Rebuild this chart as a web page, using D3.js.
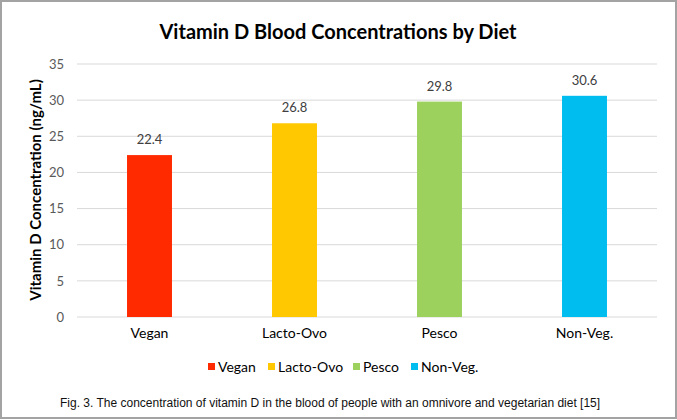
<!DOCTYPE html>
<html>
<head>
<meta charset="utf-8">
<script src="https://cdn.jsdelivr.net/npm/d3@7"></script>
<style>
  body { margin: 0; background: #fff; }
  text { font-family: Lato, "Open Sans", sans-serif; }
</style>
</head>
<body>
<div id="chart"></div>
<script>
const width = 677;
const height = 420;

const diets = ["Vegan", "Lacto-Ovo", "Pesco", "Non-Veg."];
const vitaminD = [22.4, 26.8, 29.8, 30.6];
const colors = ["#ff2a00", "#ffc800", "#9dd15e", "#00bdef"];
const yTicks = [0, 5, 10, 15, 20, 25, 30, 35];

const svg = d3.select("#chart")
  .append("svg")
  .attr("width", width)
  .attr("height", height);

// outer frame
svg.append("rect")
  .attr("x", 1).attr("y", 1)
  .attr("width", width - 2).attr("height", height - 3)
  .attr("fill", "#fff")
  .attr("stroke", "#a3a3a3")
  .attr("stroke-width", 2);

const xScale = d3.scaleBand()
  .domain(diets)
  .range([77, 657])
  .paddingInner(0.69)
  .paddingOuter(0.345);

const yScale = d3.scaleLinear()
  .domain([0, 35])
  .range([317, 64]);

// gridlines
svg.append("g")
  .selectAll("line")
  .data(yTicks)
  .enter()
  .append("line")
  .attr("x1", 77)
  .attr("x2", 657)
  .attr("y1", d => yScale(d))
  .attr("y2", d => yScale(d))
  .attr("stroke", "#d9d9d9")
  .attr("stroke-width", 1);

const yAxis = d3.axisLeft(yScale).tickValues(yTicks).tickSize(0).tickPadding(0);
const gy = svg.append("g")
  .attr("transform", "translate(64, 0)")
  .call(yAxis);
gy.select(".domain").remove();
gy.selectAll("text")
  .attr("fill", "#595959")
  .style("font-size", "13px")
  .style("font-family", "Lato, sans-serif");

const xAxis = d3.axisBottom(xScale).tickSize(0).tickPadding(0);
const gx = svg.append("g")
  .attr("transform", "translate(0, 328)")
  .call(xAxis);
gx.select(".domain").remove();
gx.selectAll("text")
  .attr("fill", "#000")
  .style("font-size", "14px")
  .style("font-family", "Lato, sans-serif");

// bars
svg.selectAll(".bar")
  .data(diets)
  .enter()
  .append("rect")
  .attr("class", "bar")
  .attr("x", d => xScale(d))
  .attr("y", (d, i) => yScale(vitaminD[i]))
  .attr("width", xScale.bandwidth())
  .attr("height", (d, i) => yScale(0) - yScale(vitaminD[i]))
  .attr("fill", (d, i) => colors[i]);

// value labels
svg.selectAll(".val")
  .data(diets)
  .enter()
  .append("text")
  .attr("class", "val")
  .attr("x", d => xScale(d) + xScale.bandwidth() / 2)
  .attr("y", (d, i) => yScale(vitaminD[i]) - 11)
  .attr("text-anchor", "middle")
  .attr("fill", "#404040")
  .style("font-size", "13px")
  .text((d, i) => vitaminD[i].toFixed(1));

// title
svg.append("text")
  .attr("x", 338)
  .attr("y", 39)
  .attr("text-anchor", "middle")
  .attr("fill", "#000")
  .style("font-size", "20px")
  .style("font-weight", "bold")
  .text("Vitamin D Blood Concentrations by Diet");

// y axis title
svg.append("text")
  .attr("transform", "translate(41, 190) rotate(-90)")
  .attr("text-anchor", "middle")
  .attr("fill", "#000")
  .style("font-size", "15px")
  .style("font-weight", "bold")
  .text("Vitamin D Concentration (ng/mL)");

// legend
const legendX = [208, 268, 353, 411];
const legend = svg.selectAll(".leg")
  .data(diets)
  .enter()
  .append("g")
  .attr("class", "leg")
  .attr("transform", (d, i) => `translate(${legendX[i]}, 363)`);
legend.append("rect")
  .attr("width", 7).attr("height", 7)
  .attr("fill", (d, i) => colors[i]);
legend.append("text")
  .attr("x", 10)
  .attr("y", 9)
  .attr("fill", "#000")
  .style("font-size", "14px")
  .text(d => d);

// caption
svg.append("text")
  .attr("x", 60)
  .attr("y", 407)
  .attr("fill", "#111")
  .style("font-family", "'Liberation Sans', Arial, sans-serif")
  .style("font-size", "12px")
  .text("Fig. 3. The concentration of vitamin D in the blood of people with an omnivore and vegetarian diet [15]");
</script>
</body>
</html>
